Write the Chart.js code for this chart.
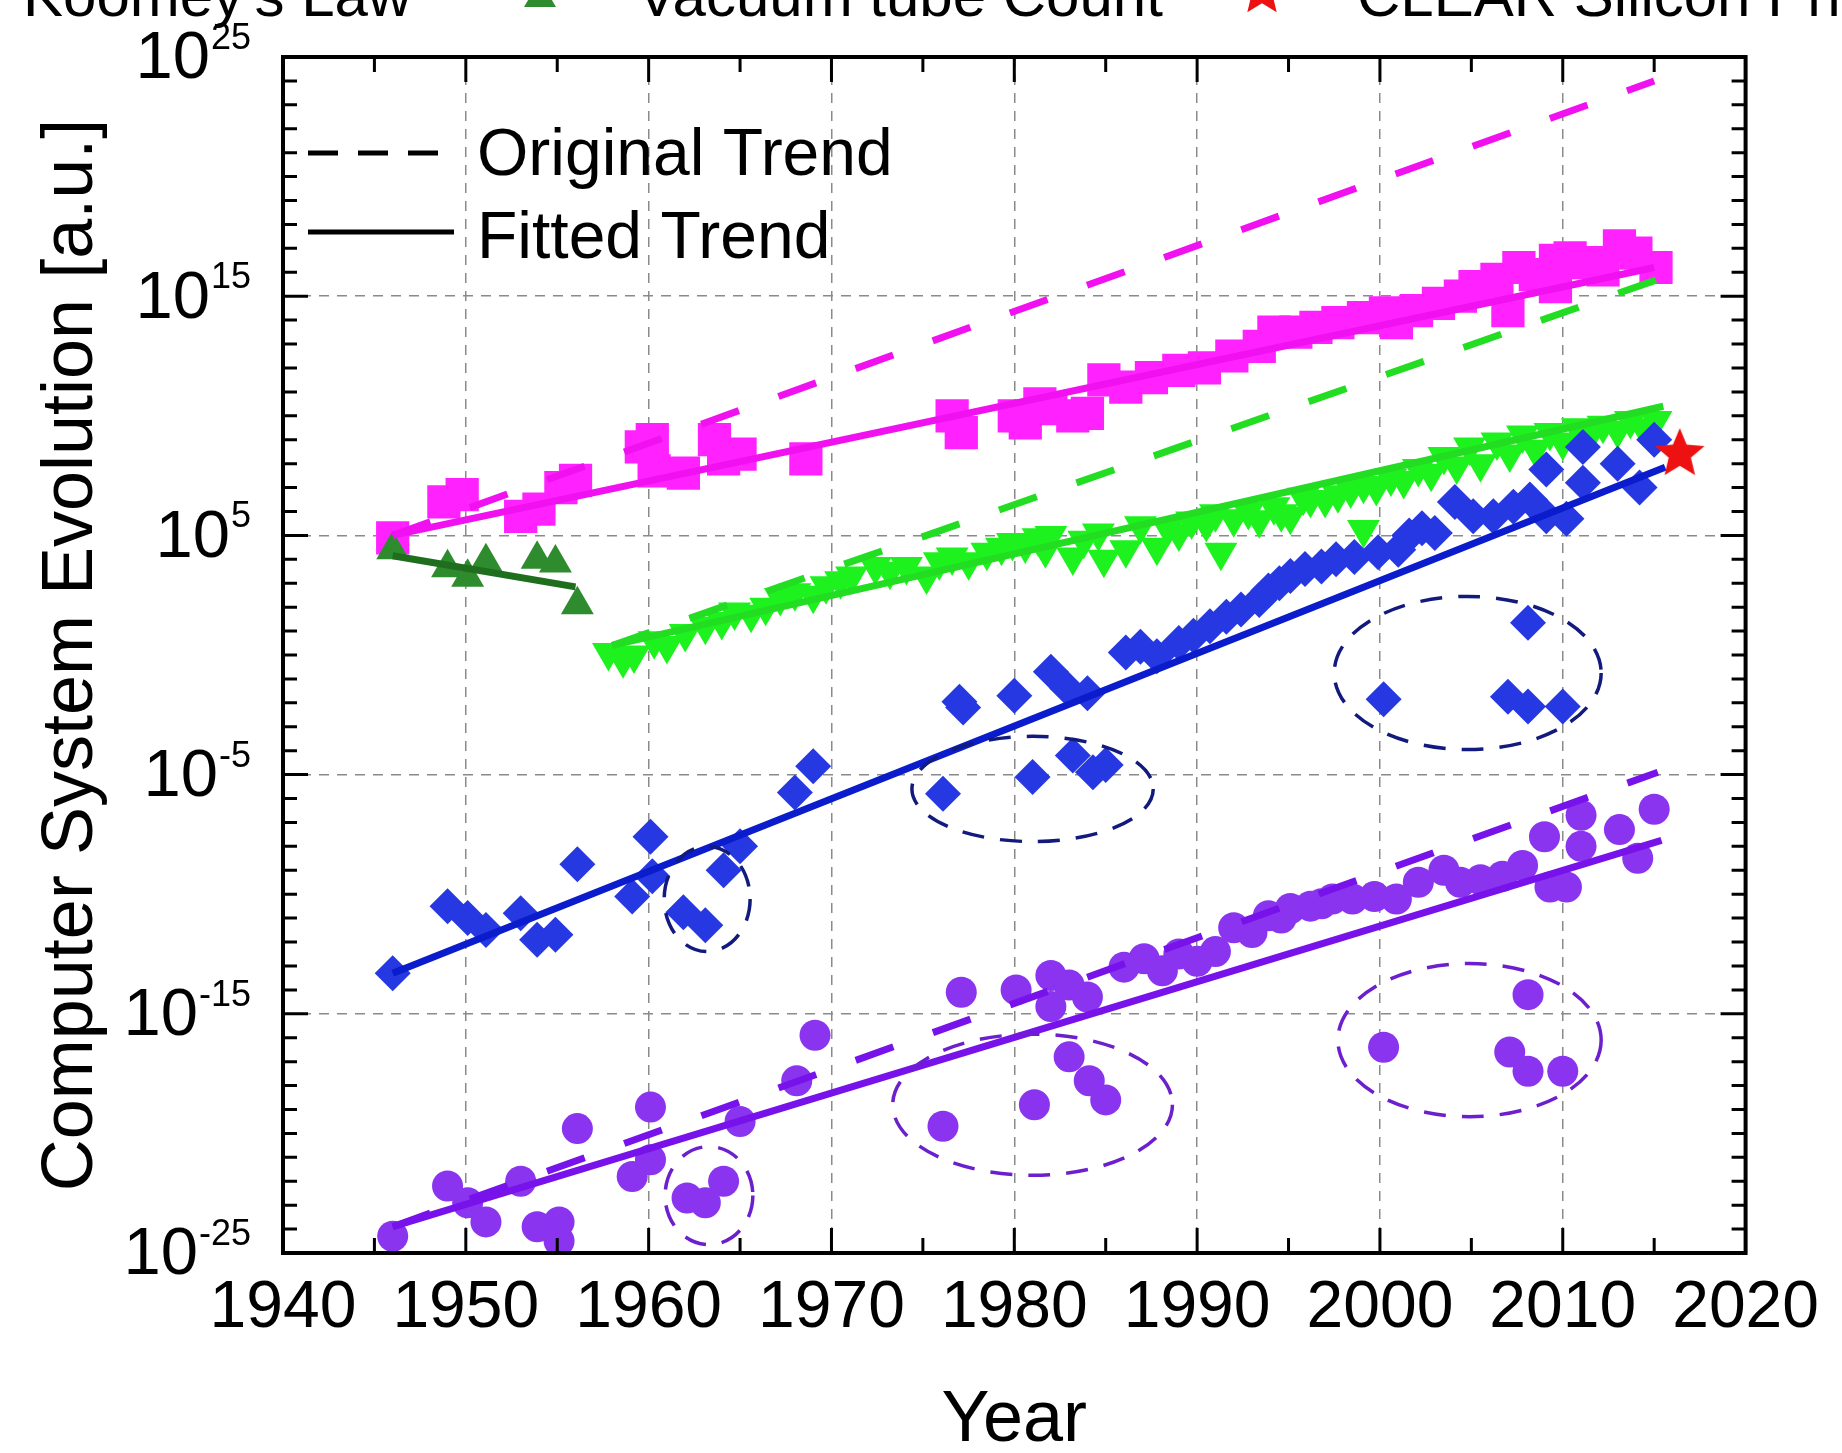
<!DOCTYPE html>
<html>
<head>
<meta charset="utf-8">
<title>Computer System Evolution</title>
<script src="https://cdn.jsdelivr.net/npm/chart.js@4/dist/chart.umd.min.js"></script>
<style>
  html, body { margin: 0; padding: 0; background: #fff; }
  #wrap { width: 1842px; height: 1453px; }
</style>
</head>
<body>
<div id="wrap"><canvas id="chart" width="1842" height="1453"></canvas></div>
<script>
// ===================== DATA (values as log10 of a.u.) =====================
const koomeyYears = [1946.0,1948.8,1949.8,1953.0,1954.0,1955.2,1956.0,1959.6,1960.2,1960.3,1961.9,1963.6,1964.1,1965.0,1968.6,
  1976.6,1977.1,1980.0,1980.6,1981.4,1982.0,1983.2,1984.0,1984.9,1986.1,1987.5,1989.0,1990.4,1991.9,1993.4,1994.2,1995.4,
  1996.5,1997.7,1999.1,2000.3,2000.9,2002.0,2003.2,2004.4,2005.2,2006.4,2007.0,2007.6,2008.5,2009.6,2009.6,2010.4,2011.3,
  2012.2,2013.1,2014.0,2015.1];
const koomeyLog = [4.9,6.4,6.7,5.8,6.1,7.0,7.3,8.7,9.0,7.7,7.6,9.0,8.2,8.4,8.2,
  10.0,9.3,10.0,9.7,10.5,10.3,10.0,10.1,11.5,11.2,11.6,11.9,12.0,12.5,12.9,13.5,13.5,
  13.7,13.9,14.1,14.3,13.9,14.4,14.7,15.0,15.4,15.7,14.4,16.2,15.9,16.5,15.4,16.6,16.4,
  16.1,17.1,16.8,16.2];

const tubeYears = [1946.0,1949.0,1950.1,1951.1,1953.9,1954.9,1956.1];
const tubeLog = [4.4,3.65,3.25,3.9,4.0,3.85,2.1];

const transYears = [1957.8,1958.6,1959.2,1960.3,1961.0,1962.0,1963.1,1964.0,1964.7,1965.6,1966.4,1967.2,1968.0,1969.0,1969.7,
  1970.5,1971.1,1972.4,1973.2,1974.1,1975.2,1975.9,1976.6,1977.5,1978.5,1979.3,1979.9,1980.6,1981.3,1981.7,1982.0,1983.2,
  1983.8,1984.6,1984.9,1986.1,1986.9,1987.8,1988.4,1989.0,1989.7,1990.5,1991.0,1991.3,1992.0,1992.8,1993.4,1994.2,1994.6,
  1995.1,1995.8,1996.2,1997.0,1997.7,1998.4,1999.1,1999.1,1999.8,2000.6,2001.3,2002.1,2002.8,2003.5,2004.2,2004.9,2005.5,
  2006.4,2007.1,2007.8,2008.5,2009.3,2010.0,2010.8,2011.5,2012.2,2013.0,2013.7,2014.4,2015.1];
const transLog = [0.1,-0.2,0.0,0.6,0.4,0.9,1.2,1.4,1.8,1.7,2.0,2.4,2.6,2.5,2.9,
  3.1,3.3,3.7,3.5,3.7,3.3,3.9,4.1,3.9,4.3,4.5,4.7,4.6,4.9,4.4,5.0,4.1,
  4.8,5.1,4.0,4.4,5.4,4.5,5.3,5.1,5.6,5.5,5.9,4.3,5.7,6.0,5.65,6.2,5.9,
  5.8,6.6,6.5,6.5,6.7,6.9,5.25,7.1,7.0,7.4,7.3,7.8,7.6,8.3,7.9,8.7,8.0,
  8.9,8.4,9.2,8.6,9.3,8.9,9.5,9.2,9.6,9.4,9.8,9.5,9.8];

const blueYears = [1946.0,1949.0,1950.1,1951.1,1953.0,1953.9,1954.9,1956.1,1959.1,1960.1,1960.2,1961.9,1963.1,1964.1,1965.0,
  1968.0,1969.0,1976.1,1977.0,1977.2,1980.0,1981.0,1982.0,1982.9,1983.2,1984.0,1984.3,1985.0,1986.1,1986.9,1987.8,1989.0,
  1989.8,1990.7,1991.6,1992.4,1993.4,1993.9,1994.5,1995.1,1995.9,1996.8,1997.6,1998.6,1999.9,2000.2,2001.0,2001.6,2002.3,
  2003.0,2004.1,2005.1,2006.2,2007.0,2007.3,2008.1,2008.1,2008.2,2009.1,2009.1,2010.0,2010.2,2011.1,2011.1,2013.0,2014.2,2015.0];
const blueLog = [-13.3,-10.5,-11.0,-11.5,-10.8,-11.9,-11.7,-8.75,-10.1,-7.6,-9.25,-10.75,-11.3,-9.0,-8.0,
  -5.75,-4.65,-5.8,-1.95,-2.2,-1.7,-5.1,-0.7,-1.4,-4.2,-1.6,-4.9,-4.6,0.1,0.35,-0.05,0.5,
  0.8,1.2,1.6,1.9,2.3,2.7,3.0,3.3,3.6,3.7,4.0,4.1,4.3,-1.85,4.4,5.0,5.3,
  5.1,6.4,5.8,5.8,-1.75,6.2,1.35,-2.15,6.5,7.75,5.8,-2.15,5.7,8.7,7.2,8.0,7.0,9.0];

const purpleYears = [1946.0,1949.0,1950.1,1951.1,1953.0,1953.9,1955.1,1955.1,1956.1,1959.1,1960.1,1960.1,1962.1,1963.1,1964.1,
  1965.0,1968.1,1969.1,1976.1,1977.1,1980.1,1981.1,1982.0,1982.0,1983.0,1983.0,1984.0,1984.1,1985.0,1986.0,1987.1,1988.1,
  1989.0,1990.0,1991.0,1992.0,1993.0,1993.9,1994.6,1995.1,1996.2,1996.8,1997.4,1998.5,1999.7,2000.2,2000.9,2002.1,2003.5,
  2004.4,2005.5,2006.7,2007.1,2007.8,2008.1,2008.1,2009.0,2009.3,2010.0,2010.2,2011.0,2011.0,2013.1,2014.1,2015.0];
const purpleLog = [-24.3,-22.2,-22.9,-23.7,-22.0,-23.9,-23.7,-24.5,-19.8,-21.8,-18.9,-21.1,-22.7,-22.9,-22.0,
  -19.5,-17.8,-15.9,-19.7,-14.1,-14.0,-18.8,-13.4,-14.7,-13.8,-16.8,-14.3,-17.8,-18.6,-13.05,-12.7,-13.2,
  -12.5,-12.8,-12.4,-11.4,-11.6,-10.9,-11.0,-10.6,-10.5,-10.4,-10.2,-10.2,-10.1,-16.4,-10.2,-9.5,-9.0,
  -9.5,-9.4,-9.25,-16.6,-8.8,-14.2,-17.4,-7.6,-9.7,-17.4,-9.7,-6.7,-8.0,-7.3,-8.5,-6.45];

const clearYears = [2016.4];
const clearLog = [8.4];

// trend end points: [start, end]
const koomeyFitYears = [1946, 2015], koomeyFitLog = [5.0, 16.2];
const koomeyOrigYears = [1946, 2015], koomeyOrigLog = [5.0, 24.0];
const tubeFitYears = [1946, 1956], tubeFitLog = [4.15, 2.85];
const transFitYears = [1958, 2015.5], transFitLog = [0.4, 10.4];
const transOrigYears = [1958, 2015.2], transOrigLog = [0.4, 15.7];
const blueFitYears = [1946, 2015.6], blueFitLog = [-13.3, 7.85];
const purpleFitYears = [1946, 2015.4], purpleFitLog = [-23.9, -7.75];
const purpleOrigYears = [1946, 2015.2], purpleOrigLog = [-23.9, -4.9];

// outlier groups: [centre year, centre log10, half-width years, half-height decades]
const blueGroups = [[1963.2, -10.2, 2.35, 2.2], [1981.0, -5.6, 6.6, 2.2], [2004.8, -0.75, 7.3, 3.2]];
const purpleGroups = [[1963.3, -22.6, 2.4, 2.05], [1981.0, -18.8, 7.65, 2.95], [2004.9, -16.1, 7.2, 3.2]];

const xTicks = [1940, 1950, 1960, 1970, 1980, 1990, 2000, 2010, 2020];
const yTickExp = [-25, -15, -5, 5, 15, 25];

// ===================== HELPERS =====================
const FONT = "'Liberation Sans', Arial, sans-serif";
Chart.defaults.font.family = FONT;
Chart.defaults.color = '#000';

const pts = (xs, ls) => xs.map((x, i) => ({ x: x, y: Math.pow(10, ls[i]) }));

function starPath(g, cx, cy, r) {
  g.beginPath();
  for (let i = 0; i < 10; i++) {
    const rr = i % 2 ? r * 0.45 : r;
    const a = -Math.PI / 2 + i * Math.PI / 5;
    g.lineTo(cx + rr * Math.cos(a), cy + rr * Math.sin(a));
  }
  g.closePath();
}
function starImage(r, color) {
  const c = document.createElement('canvas');
  c.width = c.height = 2 * r + 4;
  const g = c.getContext('2d');
  starPath(g, r + 2, r + 2, r);
  g.fillStyle = color;
  g.fill();
  return c;
}

function scatterSet(label, xs, ls, style, color, radius, order, rot) {
  return {
    type: 'scatter', label: label, data: pts(xs, ls), order: order,
    pointStyle: style, pointRadius: radius, pointRotation: rot || 0,
    backgroundColor: color, borderColor: color, pointBorderWidth: 0, borderWidth: 0
  };
}
function trendSet(xs, ls, color, dashed, order) {
  return {
    type: 'line', data: pts(xs, ls), order: order,
    borderColor: color, borderWidth: 7, borderDash: dashed ? [40, 42] : [],
    pointRadius: 0, fill: false, tension: 0
  };
}

// ===================== DECORATIONS =====================
const decor = {
  id: 'decor',
  afterDatasetsDraw(chart) {
    const { ctx, scales: { x, y } } = chart;
    ctx.save();
    ctx.lineWidth = 3.5;
    ctx.setLineDash([22, 16]);
    const drawGroups = (groups, color) => {
      ctx.strokeStyle = color;
      groups.forEach(g => {
        const cx = x.getPixelForValue(g[0]);
        const cy = y.getPixelForValue(Math.pow(10, g[1]));
        const rx = x.getPixelForValue(g[0] + g[2]) - cx;
        const ry = cy - y.getPixelForValue(Math.pow(10, g[1] + g[3]));
        ctx.beginPath();
        ctx.ellipse(cx, cy, rx, ry, 0, 0, Math.PI * 2);
        ctx.stroke();
      });
    };
    drawGroups(blueGroups, '#121a7e');
    drawGroups(purpleGroups, '#6c1fcc');
    ctx.restore();
  },
  afterDraw(chart) {
    const { ctx, chartArea: a, scales: { x, y } } = chart;
    ctx.save();

    // frame
    ctx.strokeStyle = '#000';
    ctx.lineWidth = 4;
    ctx.strokeRect(a.left, a.top, a.right - a.left, a.bottom - a.top);

    // inward ticks, all four sides
    ctx.lineWidth = 3;
    ctx.beginPath();
    for (let yr = 1940; yr <= 2020; yr += 5) {
      const px = x.getPixelForValue(yr);
      const len = yr % 10 === 0 ? 25 : 15;
      ctx.moveTo(px, a.bottom); ctx.lineTo(px, a.bottom - len);
      ctx.moveTo(px, a.top); ctx.lineTo(px, a.top + len);
    }
    for (let e = -25; e <= 25; e++) {
      const py = y.getPixelForValue(Math.pow(10, e));
      const len = (e + 25) % 10 === 0 ? 25 : 14;
      ctx.moveTo(a.left, py); ctx.lineTo(a.left + len, py);
      ctx.moveTo(a.right, py); ctx.lineTo(a.right - len, py);
    }
    ctx.stroke();

    // y tick labels 10^n
    ctx.fillStyle = '#000';
    yTickExp.forEach(e => {
      const py = y.getPixelForValue(Math.pow(10, e));
      const ex = String(e);
      ctx.font = '36px ' + FONT;
      const ew = ctx.measureText(ex).width;
      const right = a.left - 32;
      ctx.textAlign = 'left';
      ctx.textBaseline = 'alphabetic';
      ctx.fillText(ex, right - ew, py - 8);
      ctx.font = '67px ' + FONT;
      ctx.textAlign = 'right';
      ctx.textBaseline = 'middle';
      ctx.fillText('10', right - ew - 1, py + 3);
    });

    // inner legend
    ctx.lineWidth = 5;
    ctx.strokeStyle = '#000';
    ctx.setLineDash([30, 20]);
    ctx.beginPath(); ctx.moveTo(308, 153); ctx.lineTo(454, 153); ctx.stroke();
    ctx.setLineDash([]);
    ctx.beginPath(); ctx.moveTo(308, 232); ctx.lineTo(454, 232); ctx.stroke();
    ctx.font = '66px ' + FONT;
    ctx.textAlign = 'left';
    ctx.textBaseline = 'alphabetic';
    ctx.fillText('Original Trend', 477, 175);
    ctx.fillText('Fitted Trend', 477, 258);

    // top legend row (cropped by the canvas edge)
    ctx.font = '60px ' + FONT;
    ctx.fillText("Koomey's Law", 23, 16);
    ctx.fillText('Vacuum tube Count', 637, 16);
    ctx.fillText('CLEAR Silicon Photonics', 1357, 16);
    ctx.fillStyle = '#2e8b2e';
    ctx.beginPath();
    ctx.moveTo(540, -20); ctx.lineTo(556, 7); ctx.lineTo(524, 7); ctx.closePath();
    ctx.fill();
    ctx.fillStyle = '#ee1111';
    starPath(ctx, 1262, -8, 25);
    ctx.fill();

    ctx.restore();
  }
};

// ===================== CHART =====================
new Chart(document.getElementById('chart'), {
  type: 'scatter',
  data: {
    datasets: [
      scatterSet('CLEAR Silicon Photonics', clearYears, clearLog, starImage(26, '#ee1111'), '#ee1111', 26, 0),
      trendSet(blueFitYears, blueFitLog, '#0a1ccc', false, 1),
      trendSet(purpleFitYears, purpleFitLog, '#7812ea', false, 1),
      trendSet(koomeyFitYears, koomeyFitLog, '#f010f0', false, 1),
      trendSet(transFitYears, transFitLog, '#22dd22', false, 1),
      trendSet(tubeFitYears, tubeFitLog, '#1e6e1e', false, 1),
      trendSet(koomeyOrigYears, koomeyOrigLog, '#f010f0', true, 2),
      trendSet(transOrigYears, transOrigLog, '#22dd22', true, 2),
      trendSet(purpleOrigYears, purpleOrigLog, '#7812ea', true, 2),
      scatterSet('Vacuum tube Count', tubeYears, tubeLog, 'triangle', '#2e8b2e', 19, 3),
      scatterSet('Blue', blueYears, blueLog, 'rectRot', '#2638e2', 18, 4),
      scatterSet('Purple', purpleYears, purpleLog, 'circle', '#8a34f0', 15.5, 5),
      scatterSet('Transistor', transYears, transLog, 'triangle', '#1ef21e', 19, 6, 180),
      scatterSet("Koomey's Law", koomeyYears, koomeyLog, 'rect', '#ff22ff', 23.5, 7)
    ]
  },
  options: {
    responsive: false,
    animation: false,
    devicePixelRatio: 1,
    layout: { padding: { left: 0, top: 57, right: 79, bottom: 0 } },
    plugins: { legend: { display: false }, tooltip: { enabled: false } },
    scales: {
      x: {
        type: 'linear', position: 'bottom', min: 1940, max: 2020,
        afterBuildTicks: s => { s.ticks = xTicks.map(v => ({ value: v })); },
        afterFit: s => { s.height = 200; },
        ticks: { padding: 23, color: '#000', font: { size: 66, lineHeight: 1 }, maxRotation: 0, autoSkip: false,
          callback: v => String(v) },
        grid: { color: '#8a8a8a', lineWidth: 1.5, drawTicks: false },
        border: { display: false, dash: [10, 8] },
        title: { display: true, text: 'Year', color: '#000', font: { size: 72, lineHeight: 1 }, padding: { top: 0, bottom: -4 } }
      },
      y: {
        type: 'logarithmic', position: 'left', min: 1e-25, max: 1e25,
        afterBuildTicks: s => { s.ticks = yTickExp.map(e => ({ value: Math.pow(10, e) })); },
        afterFit: s => { s.width = 283; },
        ticks: { display: false },
        grid: { color: '#8a8a8a', lineWidth: 1.5, drawTicks: false },
        border: { display: false, dash: [10, 8] },
        title: { display: true, text: 'Computer System Evolution [a.u.]', color: '#000', font: { size: 72, lineHeight: 1 }, padding: { top: 36, bottom: 0 } }
      }
    }
  },
  plugins: [decor]
});
</script>
</body>
</html>
